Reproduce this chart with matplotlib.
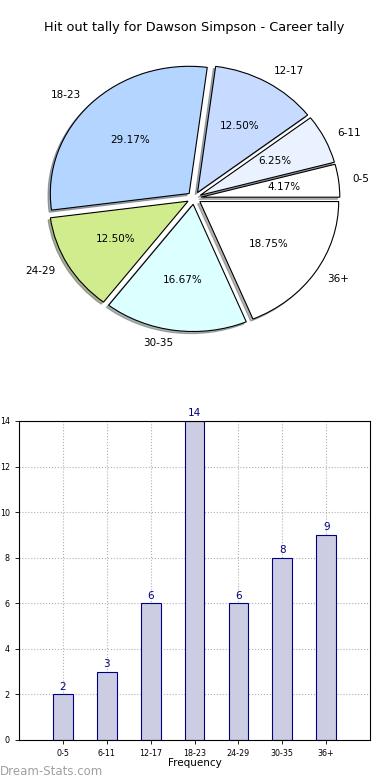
import numpy as np
import matplotlib
matplotlib.use('Agg')
import matplotlib.pyplot as plt

# Hit out tally data
categories = ['0-5', '6-11', '12-17', '18-23', '24-29', '30-35', '36+']
counts = [2, 3, 6, 14, 6, 8, 9]
pie_colors = ['#ffffff', '#eaf2ff', '#c6dbff', '#b4d5ff', '#d0ec8c', '#dcffff', '#ffffff']

fig = plt.figure(figsize=(3.9, 7.8), dpi=100)

# Pie chart (old-style, not equal aspect)
ax1 = fig.add_axes([0.0526, 0.5423, 0.89, 0.4077])
wedges, texts, autotexts = ax1.pie(counts, labels=categories, colors=pie_colors,
                                   explode=[0.05] * len(counts), autopct='%.2f%%',
                                   shadow={'ox': -0.012, 'oy': -0.012, 'shade': 0.6},
                                   startangle=0,
                                   wedgeprops={'edgecolor': 'black', 'linewidth': 0.8},
                                   textprops={'fontsize': 7.5})
ax1.set_aspect('auto')
ax1.set_xlim(-1.25, 1.25)
ax1.set_ylim(-1.25, 1.25)
ax1.set_title('Hit out tally for Dawson Simpson - Career tally', fontsize=9.3, pad=6)

# Bar chart
ax2 = fig.add_axes([0.0487, 0.0513, 0.9003, 0.409])
x = np.arange(len(categories))
bars = ax2.bar(x, counts, width=0.45, color='#ccccE2', edgecolor='#000080', linewidth=0.8, zorder=2)
for xi, c in zip(x, counts):
    ax2.text(xi, c + 0.12, str(c), ha='center', va='bottom', color='#000080', fontsize=7.5)
ax2.set_xlim(-1, 7)
ax2.set_ylim(0, 14)
ax2.set_xticks(x)
ax2.set_xticklabels(categories)
ax2.set_yticks(np.arange(0, 15, 2))
ax2.tick_params(labelsize=5.8, length=3, width=0.6)
ax2.grid(True, linestyle=':', color='#b0b0b0', linewidth=0.8, zorder=0)
ax2.set_xlabel('Frequency', fontsize=7.5, labelpad=0)
ax2.set_ylabel('Hit Outs', fontsize=7.5, labelpad=3)
for s in ax2.spines.values():
    s.set_linewidth(0.8)

fig.text(0.0, 0.003, 'Dream-Stats.com', fontsize=8.5, color='#a0a0a0',
         ha='left', va='bottom')

fig.savefig('out.png', dpi=100)
